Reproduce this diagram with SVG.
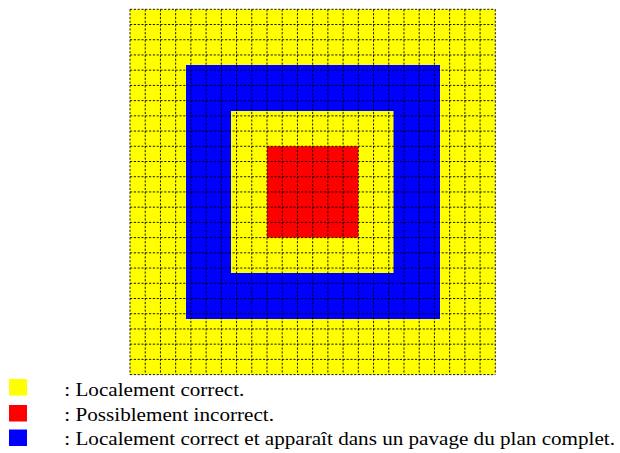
<svg xmlns="http://www.w3.org/2000/svg" width="620" height="453" viewBox="0 0 620 453">
<style>
.grid{fill:none;stroke:#000;stroke-width:0.9;stroke-dasharray:2.2,1.6}
.lbl{font-family:"Liberation Serif","Times New Roman",serif;font-size:19.5px;fill:#000}
</style>
<rect width="620" height="453" fill="#fff"/>
<g id="tiling">
<rect x="130" y="9.3" width="365.3" height="365.3" fill="#ffff00"/>
<rect x="186" y="65" width="254" height="254" fill="#0000ff"/>
<rect x="231" y="111" width="162.5" height="162" fill="#ffff00"/>
<rect x="267" y="146.3" width="91.3" height="91.3" fill="#ff0000"/>
</g>
<g id="grid">
<path class="grid" d="M130,9.3V374.6M145.22,9.3V374.6M160.44,9.3V374.6M175.66,9.3V374.6M190.88,9.3V374.6M206.1,9.3V374.6M221.33,9.3V374.6M236.55,9.3V374.6M251.77,9.3V374.6M266.99,9.3V374.6M282.21,9.3V374.6M297.43,9.3V374.6M312.65,9.3V374.6M327.87,9.3V374.6M343.09,9.3V374.6M358.32,9.3V374.6M373.54,9.3V374.6M388.76,9.3V374.6M403.98,9.3V374.6M419.2,9.3V374.6M434.42,9.3V374.6M449.64,9.3V374.6M464.86,9.3V374.6M480.08,9.3V374.6M495.3,9.3V374.6"/>
<path class="grid" d="M130,9.3H495.3M130,24.52H495.3M130,39.74H495.3M130,54.96H495.3M130,70.18H495.3M130,85.41H495.3M130,100.63H495.3M130,115.85H495.3M130,131.07H495.3M130,146.29H495.3M130,161.51H495.3M130,176.73H495.3M130,191.95H495.3M130,207.17H495.3M130,222.39H495.3M130,237.62H495.3M130,252.84H495.3M130,268.06H495.3M130,283.28H495.3M130,298.5H495.3M130,313.72H495.3M130,328.94H495.3M130,344.16H495.3M130,359.38H495.3M130,374.6H495.3"/>
</g>
<g id="legend-yellow">
<rect x="9" y="379" width="18" height="16.5" fill="#ffff00"/>
<text class="lbl" x="64.3" y="396" textLength="180" lengthAdjust="spacingAndGlyphs">: Localement correct.</text>
</g>
<g id="legend-red">
<rect x="9" y="405" width="18" height="16.5" fill="#ff0000"/>
<text class="lbl" x="64.3" y="420.5" textLength="209.7" lengthAdjust="spacingAndGlyphs">: Possiblement incorrect.</text>
</g>
<g id="legend-blue">
<rect x="9" y="429.5" width="18" height="16.5" fill="#0000ff"/>
<text class="lbl" x="64.3" y="445" textLength="550.7" lengthAdjust="spacingAndGlyphs">: Localement correct et apparaît dans un pavage du plan complet.</text>
</g>
</svg>
